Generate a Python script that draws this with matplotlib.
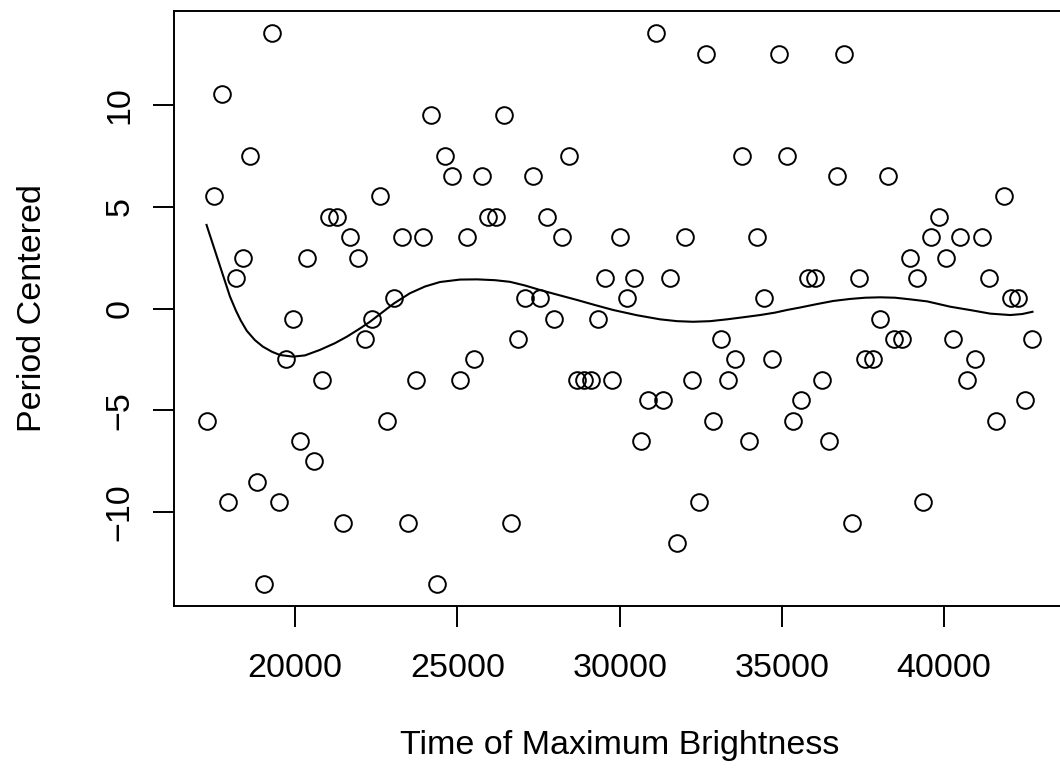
import matplotlib.pyplot as plt

plt.rcParams['font.family'] = ['Liberation Sans', 'DejaVu Sans']

# times of successive maxima and the centred period of each cycle
max_time = [
    17268, 17484, 17731, 17934, 18162, 18388, 18613, 18828, 19035, 19272,
    19488, 19713, 19938, 20145, 20370, 20586, 20814, 21039, 21276, 21480,
    21696, 21933, 22149, 22374, 22602, 22818, 23052, 23280, 23484, 23712,
    23928, 24175, 24378, 24606, 24841, 25069, 25303, 25510, 25747, 25950,
    26188, 26425, 26641, 26857, 27091, 27319, 27544, 27769, 27985, 28223,
    28448, 28676, 28901, 29117, 29323, 29558, 29773, 30002, 30217, 30443,
    30658, 30883, 31121, 31346, 31562, 31777, 32006, 32221, 32437, 32672,
    32887, 33116, 33331, 33547, 33782, 33997, 34244, 34460, 34688, 34913,
    35150, 35354, 35582, 35807, 36032, 36248, 36464, 36701, 36926, 37154,
    37370, 37574, 37811, 38036, 38264, 38459, 38705, 38943, 39158, 39362,
    39599, 39837, 40062, 40268, 40493, 40718, 40947, 41172, 41397, 41613,
    41850, 42066, 42291, 42497, 42722,
]
period_centered = [
    -5.5, 5.5, 10.5, -9.5, 1.5, 2.5, 7.5, -8.5, -13.5, 13.5,
    -9.5, -2.5, -0.5, -6.5, 2.5, -7.5, -3.5, 4.5, 4.5, -10.5,
    3.5, 2.5, -1.5, -0.5, 5.5, -5.5, 0.5, 3.5, -10.5, -3.5,
    3.5, 9.5, -13.5, 7.5, 6.5, -3.5, 3.5, -2.5, 6.5, 4.5,
    4.5, 9.5, -10.5, -1.5, 0.5, 6.5, 0.5, 4.5, -0.5, 3.5,
    7.5, -3.5, -3.5, -3.5, -0.5, 1.5, -3.5, 3.5, 0.5, 1.5,
    -6.5, -4.5, 13.5, -4.5, 1.5, -11.5, 3.5, -3.5, -9.5, 12.5,
    -5.5, -1.5, -3.5, -2.5, 7.5, -6.5, 3.5, 0.5, -2.5, 12.5,
    7.5, -5.5, -4.5, 1.5, 1.5, -3.5, -6.5, 6.5, 12.5, -10.5,
    1.5, -2.5, -2.5, -0.5, 6.5, -1.5, -1.5, 2.5, 1.5, -9.5,
    3.5, 4.5, 2.5, -1.5, 3.5, -3.5, -2.5, 3.5, 1.5, -5.5,
    5.5, 0.5, 0.5, -4.5, -1.5,
]

# smoothed trend of the period
trend_time = [
    17268, 17617, 17987, 18172, 18326, 18511, 18758, 19004, 19282, 19528,
    19929, 20299, 20762, 21224, 21594, 21995, 22303, 22673, 23043, 23536,
    24000, 24461, 25078, 25602, 26157, 26619, 27082, 27544, 28099, 28685,
    29240, 29795, 30535, 31244, 31768, 32261, 32786, 33310, 33803, 34327,
    34790, 35160, 35561, 36085, 36578, 37102, 37565, 38027, 38489, 38952,
    39476, 40185, 40894, 41418, 42035, 42405, 42722,
]
trend_value = [
    4.1, 2.4, 0.6, -0.1, -0.6, -1.1, -1.55, -1.87, -2.12, -2.28,
    -2.36, -2.3, -2.03, -1.7, -1.38, -0.98, -0.65, -0.2, 0.25, 0.75,
    1.08, 1.3, 1.42, 1.43, 1.39, 1.31, 1.13, 0.91, 0.67, 0.42,
    0.17, -0.07, -0.33, -0.53, -0.62, -0.65, -0.62, -0.53, -0.43, -0.32,
    -0.2, -0.07, 0.05, 0.22, 0.37, 0.47, 0.53, 0.55, 0.53, 0.45,
    0.35, 0.09, -0.1, -0.25, -0.32, -0.27, -0.16,
]

x_ticks = [20000, 25000, 30000, 35000, 40000]
y_ticks = [-10, -5, 0, 5, 10]

fig = plt.figure(figsize=(10.6, 7.69), dpi=100)
ax = fig.add_axes([0.1637, 0.2123, 0.8415, 0.7730])

ax.plot(max_time, period_centered, 'o', mfc='none', mec='black',
        ms=12, mew=1.4, linestyle='none')
ax.plot(trend_time, trend_value, color='black', lw=1.5)

ax.set_xlim(16250, 43740)
ax.set_ylim(-14.58, 14.58)
ax.set_xticks(x_ticks)
ax.set_yticks(y_ticks)
ax.set_yticklabels([str(v).replace('-', '\u2212') for v in y_ticks],
                   rotation=90, va='center')
ax.tick_params(length=15, width=1.4, labelsize=24.5)
ax.tick_params(axis='x', pad=19)
ax.tick_params(axis='y', pad=12.5)
for s in ax.spines.values():
    s.set_linewidth(1.4)

ax.set_xlabel('Time of Maximum Brightness', fontsize=24.5)
ax.set_ylabel('Period Centered', fontsize=24.5)
ax.xaxis.set_label_coords(0.5, -0.2084)
ax.yaxis.set_label_coords(-0.141, 0.5)

fig.savefig('out.png', dpi=100)
